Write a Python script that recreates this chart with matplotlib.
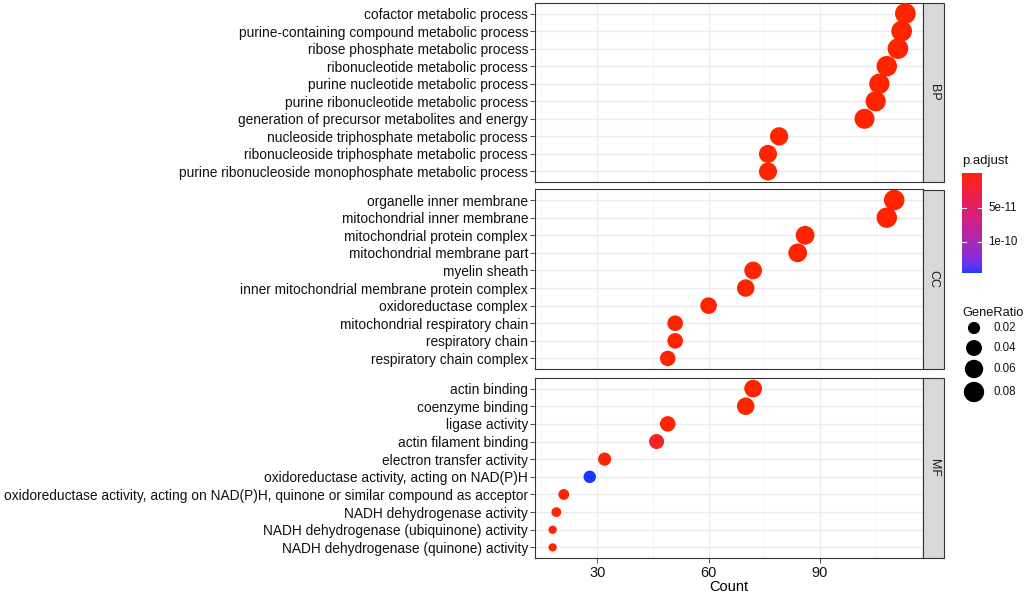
import numpy as np
import matplotlib
matplotlib.use('Agg')
import matplotlib.pyplot as plt
from matplotlib.patches import Rectangle
from matplotlib.colors import ListedColormap, Normalize

plt.rcParams['font.family'] = ['Liberation Sans', 'DejaVu Sans']

# ---------------- data ----------------
bp_terms = ["cofactor metabolic process",
            "purine-containing compound metabolic process",
            "ribose phosphate metabolic process",
            "ribonucleotide metabolic process",
            "purine nucleotide metabolic process",
            "purine ribonucleotide metabolic process",
            "generation of precursor metabolites and energy",
            "nucleoside triphosphate metabolic process",
            "ribonucleoside triphosphate metabolic process",
            "purine ribonucleoside monophosphate metabolic process"]
bp_counts = [113, 112, 111, 108, 106, 105, 102, 79, 76, 76]
bp_ratio = [0.084, 0.084, 0.083, 0.081, 0.079, 0.078, 0.076, 0.059, 0.057, 0.057]
bp_padj = [1e-22, 1e-22, 1e-22, 1e-21, 1e-21, 1e-21, 1e-20, 1e-18, 1e-17, 1e-17]

cc_terms = ["organelle inner membrane",
            "mitochondrial inner membrane",
            "mitochondrial protein complex",
            "mitochondrial membrane part",
            "myelin sheath",
            "inner mitochondrial membrane protein complex",
            "oxidoreductase complex",
            "mitochondrial respiratory chain",
            "respiratory chain",
            "respiratory chain complex"]
cc_counts = [110, 108, 86, 84, 72, 70, 60, 51, 51, 49]
cc_ratio = [0.082, 0.081, 0.064, 0.063, 0.054, 0.052, 0.045, 0.038, 0.038, 0.037]
cc_padj = [1e-22, 1e-22, 1e-20, 1e-20, 1e-18, 1e-18, 1e-17, 1e-16, 1e-16, 1e-16]

mf_terms = ["actin binding",
            "coenzyme binding",
            "ligase activity",
            "actin filament binding",
            "electron transfer activity",
            "oxidoreductase activity, acting on NAD(P)H",
            "oxidoreductase activity, acting on NAD(P)H, quinone or similar compound as acceptor",
            "NADH dehydrogenase activity",
            "NADH dehydrogenase (ubiquinone) activity",
            "NADH dehydrogenase (quinone) activity"]
mf_counts = [72, 70, 49, 46, 32, 28, 21, 19, 18, 18]
mf_ratio = [0.054, 0.052, 0.037, 0.034, 0.024, 0.021, 0.016, 0.014, 0.013, 0.013]
mf_padj = [1e-14, 1e-15, 1e-13, 1.1e-11, 1e-12, 1.44e-10, 1e-12, 1e-12, 1e-12, 1e-12]

panels = [("BP", bp_terms, bp_counts, bp_ratio, bp_padj),
          ("CC", cc_terms, cc_counts, cc_ratio, cc_padj),
          ("MF", mf_terms, mf_counts, mf_ratio, mf_padj)]

cbar_ticks = [5e-11, 1e-10]
cbar_labels = ["5e-11", "1e-10"]
size_breaks = [0.02, 0.04, 0.06, 0.08]
size_labels = ["0.02", "0.04", "0.06", "0.08"]
x_ticks = [30, 60, 90]

# ---------------- colour scale (Lab interpolation red -> blue) ----------------
M = np.array([[0.4124564, 0.3575761, 0.1804375],
              [0.2126729, 0.7151522, 0.0721750],
              [0.0193339, 0.1191920, 0.9503041]])
WHITE = np.array([0.95047, 1.0, 1.08883])

def srgb_to_lab(rgb):
    c = np.asarray(rgb, float)
    lin = np.where(c <= 0.04045, c / 12.92, ((c + 0.055) / 1.055) ** 2.4)
    xyz = M @ lin / WHITE
    d = 6 / 29
    f = np.where(xyz > d ** 3, np.cbrt(xyz), xyz / (3 * d * d) + 4 / 29)
    return np.array([116 * f[1] - 16, 500 * (f[0] - f[1]), 200 * (f[1] - f[2])])

def lab_to_srgb(lab):
    L, a, b = lab
    fy = (L + 16) / 116
    f = np.array([fy + a / 500, fy, fy - b / 200])
    d = 6 / 29
    xyz = np.where(f > d, f ** 3, 3 * d * d * (f - 4 / 29)) * WHITE
    lin = np.clip(np.linalg.inv(M) @ xyz, 0, 1)
    c = np.where(lin <= 0.0031308, 12.92 * lin, 1.055 * lin ** (1 / 2.4) - 0.055)
    return np.clip(c, 0, 1)

lab_lo = srgb_to_lab([1.0, 0.14, 0.0])
lab_hi = srgb_to_lab([0.1, 0.22, 1.0])
cols = [lab_to_srgb(lab_lo + (lab_hi - lab_lo) * t) for t in np.linspace(0, 1, 256)]
cmap = ListedColormap(cols)

all_p = bp_padj + cc_padj + mf_padj
norm = Normalize(vmin=min(all_p), vmax=max(all_p))

all_r = bp_ratio + cc_ratio + mf_ratio
rmin, rmax = min(all_r), max(all_r)

def diam_px(r):
    x = np.clip((np.asarray(r, float) - rmin) / (rmax - rmin), 0, 1)
    return 8.3 + 12.4 * np.sqrt(x)

def s_of(r):
    return (diam_px(r) * 0.72) ** 2

# ---------------- figure ----------------
W, H = 1024, 592
fig = plt.figure(figsize=(W / 100, H / 100), dpi=100)

def fr(x0, y0, x1, y1):
    return [x0 / W, 1 - y1 / H, (x1 - x0) / W, (y1 - y0) / H]

pan_left, pan_right = 535, 923
pan_tb = [(3, 182), (189.5, 369), (378, 558)]
xlim = (13.25, 117.75)

grid_c = '#EBEBEB'
border_c = '#333333'

for k, (name, terms, counts, ratio, padj) in enumerate(panels):
    t, b = pan_tb[k]
    ax = fig.add_axes(fr(pan_left, t, pan_right, b))
    ax.set_xlim(*xlim)
    ax.set_ylim(len(terms) - 1 + 0.6, -0.6)
    ax.set_facecolor('white')
    yy = np.arange(len(terms))
    ax.set_yticks(yy)
    ax.set_yticklabels(terms, fontsize=9.9, color='#111111')
    ax.set_xticks(x_ticks)
    ax.set_xticks([15, 45, 75, 105], minor=True)
    ax.set_yticks([], minor=True)
    ax.grid(True, which='major', color=grid_c, lw=0.9, zorder=0)
    ax.grid(True, which='minor', axis='x', color='#F2F2F2', lw=0.5, zorder=0)
    ax.set_axisbelow(True)
    ax.tick_params(axis='y', length=3.5, width=0.6, color=border_c, pad=1.5)
    if k == 2:
        ax.tick_params(axis='x', length=3.5, width=0.6, color=border_c, labelsize=10.5,
                       labelcolor='#111111', pad=2)
        ax.set_xticklabels([str(v) for v in x_ticks])
        ax.set_xlabel("Count", fontsize=10.5, labelpad=0)
    else:
        ax.tick_params(axis='x', which='both', length=0, labelbottom=False)
    ax.tick_params(axis='x', which='minor', length=0)
    for sp in ax.spines.values():
        sp.set_color(border_c)
        sp.set_linewidth(0.8)
    ax.scatter(counts, yy, s=s_of(ratio), c=padj, cmap=cmap, norm=norm,
               edgecolors='none', zorder=3, clip_on=False)

# overlay for strips and legends
ov = fig.add_axes([0, 0, 1, 1])
ov.axis('off')
ov.patch.set_alpha(0)

for k, (name, *_rest) in enumerate(panels):
    t, b = pan_tb[k]
    ov.add_patch(Rectangle((923, t), 21, b - t, facecolor='#D9D9D9',
                           edgecolor=border_c, lw=0.8))
    ov.text(933.5, (t + b) / 2, name, rotation=-90, ha='center', va='center',
            fontsize=9, color='#1A1A1A')

# colour bar
cb_x0, cb_x1, cb_t, cb_b = 962, 982, 173, 273
grad = np.linspace(0, 1, 256).reshape(-1, 1)
ov.imshow(grad, cmap=cmap, extent=(cb_x0, cb_x1, cb_b, cb_t), aspect='auto',
          interpolation='bilinear', zorder=2)
ov.text(cb_x0, 161, "p.adjust", fontsize=9.5, ha='left', va='center', color='#111111')
for v, lab in zip(cbar_ticks, cbar_labels):
    yv = cb_t + norm(v) * (cb_b - cb_t)
    ov.plot([cb_x0, cb_x0 + 4], [yv, yv], color='white', lw=0.8, zorder=3)
    ov.plot([cb_x1 - 4, cb_x1], [yv, yv], color='white', lw=0.8, zorder=3)
    ov.text(988, yv, lab, fontsize=8.3, ha='left', va='center', color='#111111')

# size legend
ov.text(cb_x0, 313, "GeneRatio", fontsize=9.3, ha='left', va='center', color='#111111')
leg_y = [328, 348, 369, 392]
for v, lab, yv in zip(size_breaks, size_labels, leg_y):
    ov.scatter([974], [yv], s=s_of(v), color='black', edgecolors='none')
    ov.text(993, yv, lab, fontsize=8.3, ha='left', va='center', color='#111111')

ov.set_xlim(0, W)
ov.set_ylim(H, 0)

fig.savefig("out.png", dpi=100)
